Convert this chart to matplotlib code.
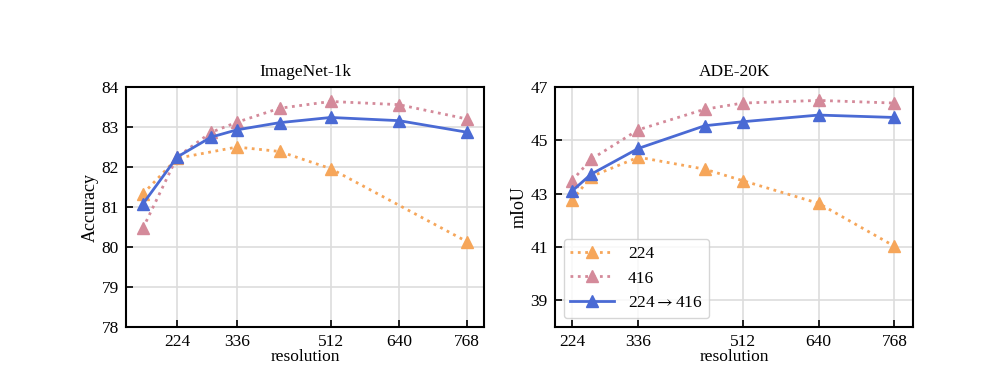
import matplotlib
matplotlib.use("Agg")
import matplotlib.pyplot as plt

# ImageNet-1k data
in_x_224 = [160, 224, 336, 416, 512, 768]
in_y_224 = [81.33, 82.22, 82.50, 82.39, 81.96, 80.13]
in_x_416 = [160, 224, 288, 336, 416, 512, 640, 768]
in_y_416 = [80.47, 82.25, 82.87, 83.12, 83.47, 83.64, 83.56, 83.20]
in_x_mix = [160, 224, 288, 336, 416, 512, 640, 768]
in_y_mix = [81.08, 82.25, 82.75, 82.93, 83.11, 83.24, 83.16, 82.87]

# ADE-20K data
ade_x = [224, 256, 336, 448, 512, 640, 768]
ade_y_224 = [42.75, 43.64, 44.37, 43.92, 43.49, 42.64, 41.03]
ade_y_416 = [43.49, 44.29, 45.40, 46.17, 46.40, 46.50, 46.40]
ade_y_mix = [43.10, 43.73, 44.70, 45.55, 45.70, 45.95, 45.86]

xticks = [224, 336, 512, 640, 768]
in_yticks = [78, 79, 80, 81, 82, 83, 84]
ade_yticks = [39, 41, 43, 45, 47]
labels = ["224", "416", r"224$\rightarrow$416"]

plt.rcParams['font.family'] = ['Liberation Serif', 'DejaVu Serif']
plt.rcParams['mathtext.fontset'] = 'stix'

c_orange = '#F6A65A'
c_pink = '#D48A9A'
c_blue = '#4A6AD4'

fig = plt.figure(figsize=(10.07, 3.87), dpi=100)
ax1 = fig.add_axes([0.125, 0.155, 0.356, 0.62])
ax2 = fig.add_axes([0.551, 0.155, 0.356, 0.62])

def style(ax):
    ax.grid(True, color='#dddddd', linewidth=1.2)
    ax.set_axisbelow(True)
    ax.tick_params(direction='in', length=5, width=1.2, labelsize=12.5, colors='black', pad=5)
    for s in ax.spines.values():
        s.set_linewidth(1.5)
    ax.set_xticks(xticks)
    ax.set_xlabel('resolution', fontsize=12.5, labelpad=-1)

ms = 9
ax1.plot(in_x_224, in_y_224, ':', color=c_orange, lw=2, marker='^', ms=ms, label=labels[0])
ax1.plot(in_x_416, in_y_416, ':', color=c_pink, lw=2, marker='^', ms=ms, label=labels[1])
ax1.plot(in_x_mix, in_y_mix, '-', color=c_blue, lw=2, marker='^', ms=ms, label=labels[2])
style(ax1)
ax1.set_xlim(128, 800)
ax1.set_ylim(78, 84)
ax1.set_yticks(in_yticks)
ax1.set_ylabel('Accuracy', fontsize=13, labelpad=2)
ax1.set_title('ImageNet-1k', fontsize=12.5, pad=8)

ax2.plot(ade_x, ade_y_224, ':', color=c_orange, lw=2, marker='^', ms=ms, label=labels[0])
ax2.plot(ade_x, ade_y_416, ':', color=c_pink, lw=2, marker='^', ms=ms, label=labels[1])
ax2.plot(ade_x, ade_y_mix, '-', color=c_blue, lw=2, marker='^', ms=ms, label=labels[2])
style(ax2)
ax2.set_xlim(195, 800)
ax2.set_ylim(38, 47)
ax2.set_yticks(ade_yticks)
ax2.set_ylabel('mIoU', fontsize=13, labelpad=2)
ax2.set_title('ADE-20K', fontsize=12.5, pad=8)
ax2.legend(loc='lower left', fontsize=12.5, framealpha=0.8, edgecolor='#cccccc', handlelength=2.5)

fig.savefig('out.png', dpi=100)
